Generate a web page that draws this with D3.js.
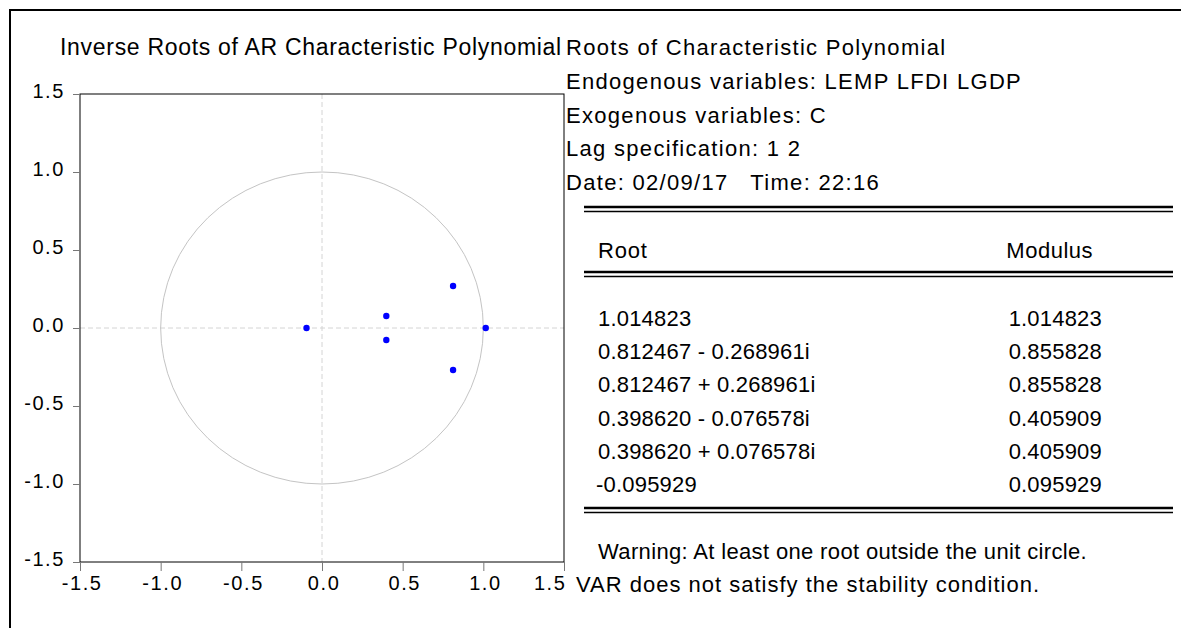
<!DOCTYPE html>
<html>
<head>
<meta charset="utf-8">
<script src="https://cdn.jsdelivr.net/npm/d3@7"></script>
<style>
  body { margin: 0; background: #fff; }
  svg { display: block; font-family: "Liberation Sans", Arial, sans-serif; }
</style>
</head>
<body>
<svg id="chart" width="1181" height="628"></svg>
<script>
/**
 * Data.
 */
const rootRe = [1.014823, 0.812467, 0.812467, 0.398620, 0.398620, -0.095929];
const rootIm = [0, -0.268961, 0.268961, -0.076578, 0.076578, 0];
const rootLabels = ['1.014823', '0.812467 - 0.268961i', '0.812467 + 0.268961i',
    '0.398620 - 0.076578i', '0.398620 + 0.076578i', '-0.095929'];
const modulusLabels = ['1.014823', '0.855828', '0.855828', '0.405909', '0.405909', '0.095929'];
const axisTicks = [-1.5, -1.0, -0.5, 0.0, 0.5, 1.0, 1.5];
const infoLines = ['Roots of Characteristic Polynomial',
    'Endogenous variables: LEMP LFDI LGDP',
    'Exogenous variables: C',
    'Lag specification: 1 2',
    'Date: 02/09/17   Time: 22:16'];
const warningLines = ['Warning: At least one root outside the unit circle.',
    'VAR does not satisfy the stability condition.'];

/**
 * Layout.
 */
const svg = d3.select('#chart');
const plot = { left: 80, right: 564, top: 94, bottom: 562 };

const x = d3.scaleLinear().domain([-1.5, 1.5]).range([plot.left, plot.right]);
const y = d3.scaleLinear().domain([-1.5, 1.5]).range([plot.bottom, plot.top]);

// outer frame (top and left edges only)
svg.append('path')
    .attr('d', 'M10,628V10H1181')
    .attr('fill', 'none')
    .attr('stroke', '#000')
    .attr('stroke-width', 2);

// title
svg.append('text')
    .attr('x', 60).attr('y', 55)
    .attr('font-size', 23)
    .attr('letter-spacing', 0.7)
    .text('Inverse Roots of AR Characteristic Polynomial');

const g = svg.append('g');

// zero lines
g.append('line')
    .attr('x1', x(0)).attr('x2', x(0))
    .attr('y1', plot.top).attr('y2', plot.bottom)
    .attr('stroke', '#d4d4d4').attr('stroke-dasharray', '5,3');
g.append('line')
    .attr('x1', plot.left).attr('x2', plot.right)
    .attr('y1', y(0)).attr('y2', y(0))
    .attr('stroke', '#d4d4d4').attr('stroke-dasharray', '5,3');

// unit circle
g.append('ellipse')
    .attr('cx', x(0)).attr('cy', y(0))
    .attr('rx', x(1) - x(0)).attr('ry', y(0) - y(1))
    .attr('fill', 'none')
    .attr('stroke', '#c4c4c4');

// roots
g.selectAll('circle.root')
    .data(rootRe.map((r, i) => ({ re: r, im: rootIm[i] })))
    .join('circle')
        .attr('class', 'root')
        .attr('cx', d => x(d.re))
        .attr('cy', d => y(d.im))
        .attr('r', 3.2)
        .attr('fill', '#0000ff');

// plot box
g.append('rect')
    .attr('x', plot.left).attr('y', plot.top)
    .attr('width', plot.right - plot.left).attr('height', plot.bottom - plot.top)
    .attr('fill', 'none').attr('stroke', '#000');

// axes
const fmt = d => d.toFixed(1);
const xAxis = d3.axisBottom(x).tickValues(axisTicks).tickFormat(fmt).tickSize(9).tickPadding(5);
const yAxis = d3.axisLeft(y).tickValues(axisTicks).tickFormat(fmt).tickSize(7).tickPadding(8);

const xg = g.append('g').attr('transform', `translate(0,${plot.bottom})`).call(xAxis);
const yg = g.append('g').attr('transform', `translate(${plot.left},0)`).call(yAxis);
[xg, yg].forEach(a => {
    a.select('.domain').remove();
    a.selectAll('.tick line').attr('stroke', '#777');
    a.selectAll('text').attr('font-size', 20).attr('fill', '#000')
        .attr('letter-spacing', 1.6)
        .attr('font-family', '"Liberation Sans", Arial, sans-serif');
});
yg.selectAll('.tick text').attr('dy', '0.15em');
xg.selectAll('.tick text').attr('dx', '0.08em');
// last x label is kept inside the plot box
xg.selectAll('.tick text').filter(d => d === 1.5)
    .attr('text-anchor', 'end').attr('dx', 2);

/**
 * Right-hand table.
 */
const t = svg.append('g');
const infoY = d3.scalePoint().domain(d3.range(infoLines.length)).range([55, 190]);
t.selectAll('text.info')
    .data(infoLines)
    .join('text')
        .attr('class', 'info')
        .attr('x', 566)
        .attr('y', (d, i) => infoY(i))
        .attr('font-size', 22)
        .attr('letter-spacing', 1.3)
        .attr('xml:space', 'preserve')
        .text(d => d);

function doubleRule(yy) {
    t.append('line').attr('x1', 584).attr('x2', 1173).attr('y1', yy).attr('y2', yy)
        .attr('stroke', '#000').attr('stroke-width', 2.5);
    t.append('line').attr('x1', 584).attr('x2', 1173).attr('y1', yy + 4.5).attr('y2', yy + 4.5)
        .attr('stroke', '#000').attr('stroke-width', 1.5);
}
doubleRule(207);
doubleRule(272);
doubleRule(508);

t.append('text').attr('x', 598).attr('y', 258).attr('font-size', 22)
    .attr('letter-spacing', 0.8).text('Root');
t.append('text').attr('x', 1093).attr('y', 258).attr('font-size', 22)
    .attr('letter-spacing', 0.5).attr('text-anchor', 'end').text('Modulus');

const rowY = d3.scalePoint().domain(d3.range(rootLabels.length)).range([326, 492]);
t.selectAll('text.root')
    .data(rootLabels)
    .join('text')
        .attr('class', 'root')
        .attr('x', d => d.startsWith('-') ? 596 : 598)
        .attr('y', (d, i) => rowY(i))
        .attr('font-size', 22)
        .attr('letter-spacing', 0.2)
        .text(d => d);
t.selectAll('text.mod')
    .data(modulusLabels)
    .join('text')
        .attr('class', 'mod')
        .attr('x', 1102)
        .attr('y', (d, i) => rowY(i))
        .attr('text-anchor', 'end')
        .attr('font-size', 22)
        .attr('letter-spacing', 0.2)
        .text(d => d);

t.selectAll('text.warn')
    .data(warningLines)
    .join('text')
        .attr('class', 'warn')
        .attr('x', (d, i) => i === 0 ? 598 : 576)
        .attr('y', (d, i) => 559 + i * 33)
        .attr('font-size', 22)
        .attr('letter-spacing', (d, i) => i === 0 ? 0.35 : 1.0)
        .text(d => d);
</script>
</body>
</html>
